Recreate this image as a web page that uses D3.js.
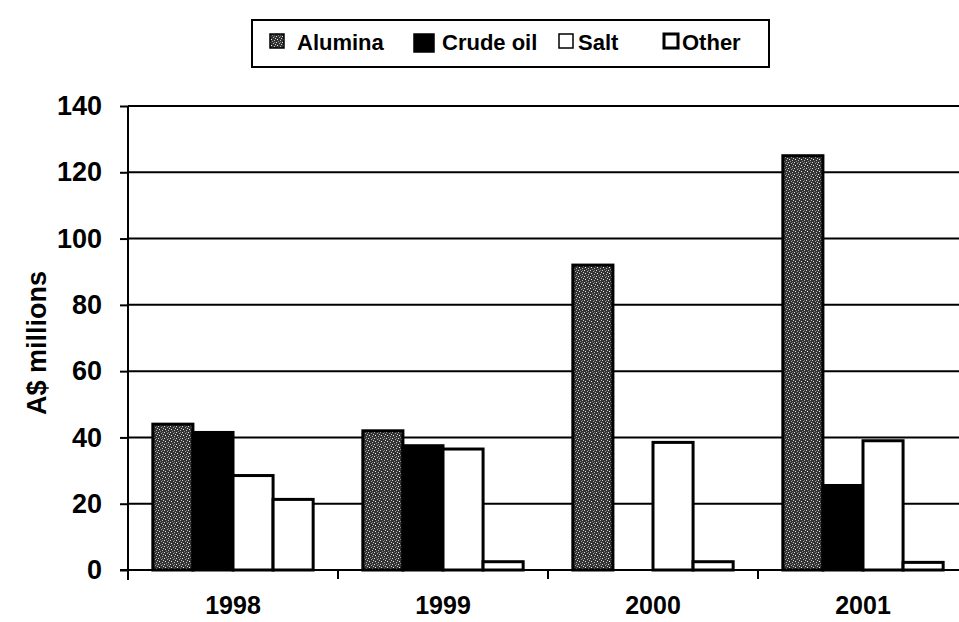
<!DOCTYPE html>
<html>
<head>
<meta charset="utf-8">
<script src="https://cdn.jsdelivr.net/npm/d3@7"></script>
<style>
  body { margin: 0; background: #fff; }
  text { font-family: Arial, "Liberation Sans", sans-serif; font-weight: bold; }
</style>
</head>
<body>
<div class="canvas"></div>
<script>
const years = ['1998', '1999', '2000', '2001'];
const seriesNames = ['Alumina', 'Crude oil', 'Salt', 'Other'];
const alumina = [44, 42, 92, 125];
const crudeOil = [41.5, 37.5, 0, 25.5];
const salt = [28.5, 36.5, 38.5, 39];
const other = [21.3, 2.5, 2.5, 2.3];
const yTicks = [0, 20, 40, 60, 80, 100, 120, 140];

const values = [alumina, crudeOil, salt, other];
const dims = {width: 959, height: 622};
const margin = {left: 128, right: -9, top: 106, bottom: 52};

const svg = d3.select('.canvas')
    .append('svg')
    .attr('width', dims.width)
    .attr('height', dims.height);

// speckled grey fill used by Alumina
const defs = svg.append('defs');
const pat = defs.append('pattern')
    .attr('id', 'speckle')
    .attr('width', 6).attr('height', 6)
    .attr('patternUnits', 'userSpaceOnUse');
pat.append('rect').attr('width', 6).attr('height', 6).attr('fill', '#333');
[[0, 0, '#ddd'], [3, 1, '#aaa'], [1, 3, '#eee'], [4, 4, '#bbb'], [2, 5, '#888'], [5, 2, '#ccc'], [4, 0, '#777']]
    .forEach(p => pat.append('rect').attr('x', p[0]).attr('y', p[1])
        .attr('width', 1).attr('height', 1).attr('fill', p[2]));

const fills = ['url(#speckle)', '#000', '#fff', '#fff'];

const x = d3.scaleBand()
    .domain(years)
    .range([margin.left, dims.width - margin.right])
    .paddingInner(0)
    .paddingOuter(0);

const xSub = d3.scaleBand()
    .domain(seriesNames)
    .range([0, x.bandwidth()])
    .paddingOuter(0.62)
    .paddingInner(0);

const y = d3.scaleLinear()
    .domain([0, 140])
    .range([dims.height - margin.bottom, margin.top]);

const graph = svg.append('g');

// grid lines
graph.selectAll('line.grid')
    .data(yTicks.slice(1))
    .enter().append('line')
    .attr('class', 'grid')
    .attr('x1', margin.left).attr('x2', dims.width)
    .attr('y1', d => y(d)).attr('y2', d => y(d))
    .attr('stroke', '#000').attr('stroke-width', 2);

// y axis
const yAxis = graph.append('g')
    .attr('transform', `translate(${margin.left},0)`)
    .call(d3.axisLeft(y).tickValues(yTicks).tickSize(8).tickPadding(18));
yAxis.select('.domain').attr('stroke-width', 2).attr('d', `M0,${y(0) + 10}V${y(140)}`);
yAxis.selectAll('.tick line').attr('stroke-width', 2);
yAxis.selectAll('text').attr('font-size', 27).attr('fill', '#000');

// bars
const groups = graph.selectAll('g.year')
    .data(years)
    .enter().append('g')
    .attr('class', 'year')
    .attr('transform', d => `translate(${x(d)},0)`);

groups.selectAll('rect')
    .data((d, i) => seriesNames.map((s, j) => ({s, j, v: values[j][i]})))
    .enter().append('rect')
    .filter(d => d.v > 0)
    .attr('x', d => xSub(d.s))
    .attr('y', d => y(d.v))
    .attr('width', xSub.bandwidth())
    .attr('height', d => y(0) - y(d.v))
    .attr('fill', d => fills[d.j])
    .attr('stroke', '#000')
    .attr('stroke-width', 3);

// x axis
const xAxis = graph.append('g')
    .attr('transform', `translate(0,${y(0)})`)
    .call(d3.axisBottom(x).tickSize(0).tickPadding(26));
xAxis.select('.domain').remove();
xAxis.selectAll('text').attr('font-size', 25).attr('fill', '#000');
graph.append('line')
    .attr('x1', margin.left - 8).attr('x2', dims.width)
    .attr('y1', y(0)).attr('y2', y(0))
    .attr('stroke', '#000').attr('stroke-width', 2);
graph.selectAll('line.xtick')
    .data(years)
    .enter().append('line')
    .attr('class', 'xtick')
    .attr('x1', d => x(d)).attr('x2', d => x(d))
    .attr('y1', y(0)).attr('y2', y(0) + 9)
    .attr('stroke', '#000').attr('stroke-width', 2);

// y label
svg.append('text')
    .attr('transform', `translate(46,${y(68.5)}) rotate(-90)`)
    .attr('text-anchor', 'middle')
    .attr('font-size', 27)
    .text('A$ millions');

// legend
const legendGroup = svg.append('g');
legendGroup.append('rect')
    .attr('x', 252).attr('y', 20).attr('width', 517).attr('height', 47)
    .attr('fill', '#fff').attr('stroke', '#000').attr('stroke-width', 2);
const iconX = [270, 414, 559, 664];
const textX = [297, 442, 578, 682];
seriesNames.forEach((s, j) => {
    legendGroup.append('rect')
        .attr('x', iconX[j]).attr('y', 34).attr('width', j === 1 ? 20 : 14).attr('height', j === 1 ? 18 : 14)
        .attr('fill', fills[j]).attr('stroke', '#000')
        .attr('stroke-width', j === 3 ? 3 : 1.5);
    legendGroup.append('text')
        .attr('x', textX[j]).attr('y', 50)
        .attr('font-size', 22)
        .text(s);
});
</script>
</body>
</html>
